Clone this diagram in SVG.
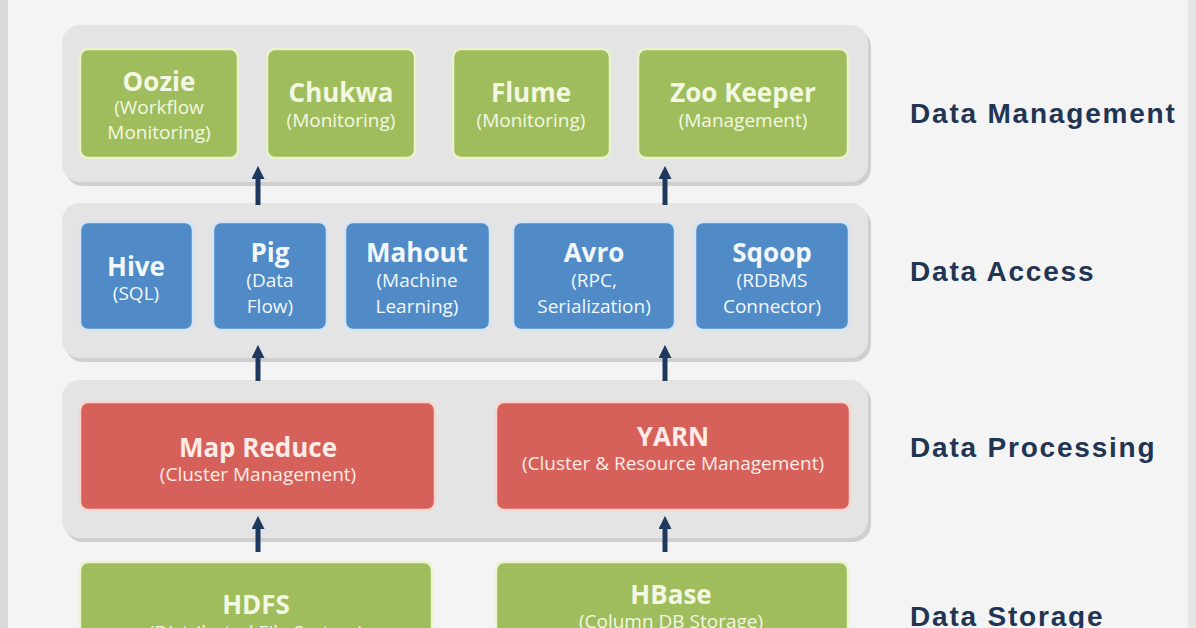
<svg xmlns="http://www.w3.org/2000/svg" width="1196" height="628" viewBox="0 0 1196 628">
<defs>
<style>
.band{fill:#e4e4e4}
.bshadow{fill:#cfcfcf}
.g{fill:#a0bd5d;stroke:#eaf3cc;stroke-width:2.5}
.b{fill:#508bc8;stroke:#d3e4f5;stroke-width:2.5}
.r{fill:#d6615a;stroke:#f8d6cf;stroke-width:2.5}
.t{font-family:"Open Sans","Liberation Sans",sans-serif;font-weight:700;font-size:26px;text-anchor:middle}
.s{font-family:"Open Sans","Liberation Sans",sans-serif;font-weight:400;font-size:19px;text-anchor:middle}
.tg{fill:#f3f8e2}
.tb{fill:#f2f7fc}
.tr{fill:#fcebe6}
.lbl{font-family:"Liberation Sans",Arial,sans-serif;font-weight:700;font-size:28px;letter-spacing:1.8px;fill:#1f3552}
.arr{stroke:#1d3a5e;stroke-width:5;fill:none}
</style>
<marker id="ah" viewBox="0 0 10 10" refX="3" refY="5" markerWidth="2.6" markerHeight="2.6" orient="auto" markerUnits="strokeWidth">
<path d="M0,0 L10,5 L0,10 Z" fill="#1d3a5e"/>
</marker>
</defs>
<rect x="0" y="0" width="1196" height="628" fill="#f4f4f4"/>
<rect x="0" y="0" width="8" height="628" fill="#d9d9d9"/>
<rect x="1188" y="0" width="8" height="628" fill="#e6e6e6"/>

<g id="band-management">
<rect class="bshadow" x="65" y="29" width="806" height="157" rx="18"/>
<rect class="band" x="62" y="25" width="806" height="157" rx="18"/>
</g>
<g id="band-access">
<rect class="bshadow" x="65" y="207" width="806" height="155" rx="18"/>
<rect class="band" x="62" y="203" width="806" height="155" rx="18"/>
</g>
<g id="band-processing">
<rect class="bshadow" x="65" y="384" width="806" height="158" rx="18"/>
<rect class="band" x="62" y="380" width="806" height="158" rx="18"/>
</g>

<g id="oozie">
<rect class="g" x="80" y="49" width="158" height="109" rx="8"/>
<text class="t tg" x="159" y="91">Oozie</text>
<text class="s tg" x="159" y="114">(Workflow</text>
<text class="s tg" x="159" y="139">Monitoring)</text>
</g>
<g id="chukwa">
<rect class="g" x="267" y="49" width="148" height="109" rx="8"/>
<text class="t tg" x="341" y="102">Chukwa</text>
<text class="s tg" x="341" y="127">(Monitoring)</text>
</g>
<g id="flume">
<rect class="g" x="453" y="49" width="157" height="109" rx="8"/>
<text class="t tg" x="531" y="102">Flume</text>
<text class="s tg" x="531" y="127">(Monitoring)</text>
</g>
<g id="zookeeper">
<rect class="g" x="638" y="49" width="210" height="109" rx="8"/>
<text class="t tg" x="743" y="102">Zoo Keeper</text>
<text class="s tg" x="743" y="127">(Management)</text>
</g>

<g id="hive">
<rect class="b" x="80" y="222" width="113" height="108" rx="8"/>
<text class="t tb" x="136" y="276">Hive</text>
<text class="s tb" x="136" y="300">(SQL)</text>
</g>
<g id="pig">
<rect class="b" x="213" y="222" width="114" height="108" rx="8"/>
<text class="t tb" x="270" y="262">Pig</text>
<text class="s tb" x="270" y="287">(Data</text>
<text class="s tb" x="270" y="313">Flow)</text>
</g>
<g id="mahout">
<rect class="b" x="345" y="222" width="145" height="108" rx="8"/>
<text class="t tb" x="417" y="262">Mahout</text>
<text class="s tb" x="417" y="287">(Machine</text>
<text class="s tb" x="417" y="313">Learning)</text>
</g>
<g id="avro">
<rect class="b" x="513" y="222" width="162" height="108" rx="8"/>
<text class="t tb" x="594" y="262">Avro</text>
<text class="s tb" x="594" y="287">(RPC,</text>
<text class="s tb" x="594" y="313">Serialization)</text>
</g>
<g id="sqoop">
<rect class="b" x="695" y="222" width="154" height="108" rx="8"/>
<text class="t tb" x="772" y="262">Sqoop</text>
<text class="s tb" x="772" y="287">(RDBMS</text>
<text class="s tb" x="772" y="313">Connector)</text>
</g>

<g id="mapreduce">
<rect class="r" x="80" y="402" width="355" height="108" rx="8"/>
<text class="t tr" x="258" y="457">Map Reduce</text>
<text class="s tr" x="258" y="481">(Cluster Management)</text>
</g>
<g id="yarn">
<rect class="r" x="496" y="402" width="354" height="108" rx="8"/>
<text class="t tr" x="673" y="446">YARN</text>
<text class="s tr" x="673" y="470">(Cluster &amp; Resource Management)</text>
</g>

<g id="hdfs">
<rect class="g" x="80" y="562" width="352" height="90" rx="8"/>
<text class="t tg" x="256" y="614">HDFS</text>
<text class="s tg" x="256" y="639">(Distributed File System)</text>
</g>
<g id="hbase">
<rect class="g" x="496" y="562" width="352" height="90" rx="8"/>
<text class="t tg" x="671" y="604">HBase</text>
<text class="s tg" x="671" y="628">(Column DB Storage)</text>
</g>

<g id="labels">
<text class="lbl" x="910" y="123">Data Management</text>
<text class="lbl" x="910" y="281">Data Access</text>
<text class="lbl" x="910" y="457">Data Processing</text>
<text class="lbl" x="910" y="626">Data Storage</text>
</g>

<g id="connectors">
<line class="arr" x1="258" y1="205" x2="258" y2="175" marker-end="url(#ah)"/>
<line class="arr" x1="665" y1="205" x2="665" y2="175" marker-end="url(#ah)"/>
<line class="arr" x1="258" y1="381" x2="258" y2="354" marker-end="url(#ah)"/>
<line class="arr" x1="665" y1="381" x2="665" y2="354" marker-end="url(#ah)"/>
<line class="arr" x1="258" y1="552" x2="258" y2="525" marker-end="url(#ah)"/>
<line class="arr" x1="665" y1="552" x2="665" y2="525" marker-end="url(#ah)"/>
</g>
</svg>
